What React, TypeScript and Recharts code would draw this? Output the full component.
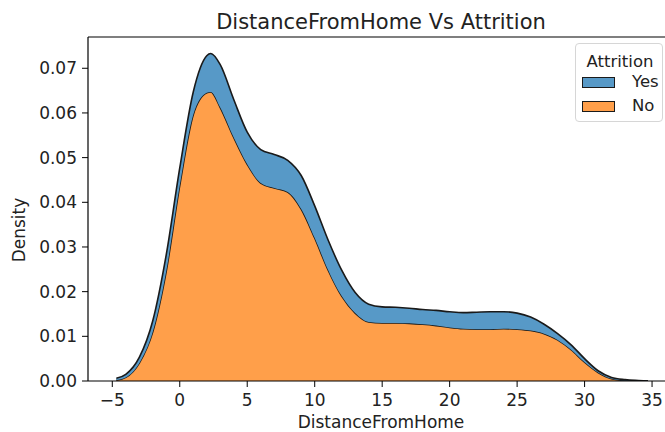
import React from "react";
import { AreaChart, Area, XAxis, YAxis, ReferenceLine } from "recharts";

// Grid positions along DistanceFromHome
const distanceValues = [
  -4.7, -4, -3, -2, -1, 0, 1, 2, 2.3, 3, 4, 5, 6, 7, 8, 9, 10, 11, 12, 13, 14, 15,
  16, 17, 18, 19, 20, 21, 22, 23, 24, 25, 26, 27, 28, 29, 30, 31, 32, 33, 34, 34.7,
];

// Stacked KDE layers (density contribution of each group)
const noDensity = [
  0.0002, 0.0008, 0.004, 0.011, 0.0246, 0.0438, 0.0596, 0.0645, 0.0647, 0.0612,
  0.0545, 0.0485, 0.0443, 0.0432, 0.0423, 0.0385, 0.032, 0.0248, 0.019, 0.0152,
  0.0132, 0.013, 0.013, 0.0129, 0.0127, 0.0124, 0.012, 0.0117, 0.0116, 0.0116,
  0.0117, 0.0116, 0.0113, 0.0106, 0.0092, 0.007, 0.0042, 0.0019, 0.0005, 0.0001,
  0.0, 0.0,
];
const yesDensity = [
  0.0004, 0.0007, 0.0013, 0.0025, 0.0037, 0.0039, 0.0051, 0.0083, 0.0086, 0.0096,
  0.0085, 0.0072, 0.0075, 0.0075, 0.0071, 0.0075, 0.0072, 0.0067, 0.0058, 0.0046,
  0.004, 0.0036, 0.0035, 0.0034, 0.0033, 0.0034, 0.0035, 0.0036, 0.0038, 0.0039,
  0.0038, 0.0036, 0.003, 0.0021, 0.0014, 0.0011, 0.0008, 0.0004, 0.0003, 0.0002,
  0.0001, 0.0,
];

const xTicks = [-5, 0, 5, 10, 15, 20, 25, 30, 35];
const yTicks = [0, 0.01, 0.02, 0.03, 0.04, 0.05, 0.06, 0.07];
const seriesNames = ["Yes", "No"];

const data = distanceValues.map((x, i) => ({
  x,
  No: noDensity[i],
  Yes: yesDensity[i],
}));

const FONT = "'DejaVu Sans', sans-serif";
const TEXT = "#222";
const BLUE = "#5799c7";
const ORANGE = "#ff9f4a";
const EDGE = "#1a1a1a";
const Y_MAX = 0.077;

export default function App() {
  return (
    <div
      style={{
        position: "absolute",
        left: 0,
        top: 0,
        width: 665,
        height: 432,
        overflow: "hidden",
        background: "#fff",
        fontFamily: FONT,
      }}
    >
      <div
        style={{
          position: "absolute",
          left: 0,
          top: 9,
          width: 762,
          textAlign: "center",
          fontSize: 21,
          color: TEXT,
          lineHeight: "26px",
          whiteSpace: "nowrap",
        }}
      >
        DistanceFromHome Vs Attrition
      </div>
      <AreaChart
        width={700}
        height={432}
        data={data}
        margin={{ top: 37, right: 25, bottom: 0, left: 0 }}
        style={{ position: "absolute", left: 0, top: 0 }}
      >
        <XAxis
          dataKey="x"
          type="number"
          domain={[-6.8, 36.7]}
          ticks={xTicks}
          allowDataOverflow
          height={51}
          tickSize={6}
          tickMargin={7}
          stroke="#000"
          tickLine={{ stroke: "#000" }}
          axisLine={{ stroke: "#000", strokeWidth: 1.2 }}
          tick={{ fontSize: 17, fill: TEXT, fontFamily: FONT }}
          tickFormatter={(v: number) => String(v).replace("-", "\u2212")}
          label={{
            content: () => (
              <text
                x={381}
                y={428}
                textAnchor="middle"
                fontSize={17}
                fill={TEXT}
                fontFamily={FONT}
              >
                DistanceFromHome
              </text>
            ),
          }}
        />
        <YAxis
          type="number"
          domain={[0, Y_MAX]}
          ticks={yTicks}
          allowDataOverflow
          width={88}
          tickSize={6}
          tickMargin={5}
          stroke="#000"
          tickLine={{ stroke: "#000" }}
          axisLine={{ stroke: "#000", strokeWidth: 1.2 }}
          tick={{ fontSize: 17, fill: TEXT, fontFamily: FONT }}
          tickFormatter={(v: number) => v.toFixed(2)}
          label={{
            content: () => (
              <text
                x={25}
                y={230}
                transform="rotate(-90 25 230)"
                textAnchor="middle"
                fontSize={17}
                fill={TEXT}
                fontFamily={FONT}
              >
                Density
              </text>
            ),
          }}
        />
        <Area
          type="monotone"
          dataKey="No"
          stackId="kde"
          stroke={EDGE}
          strokeWidth={1.6}
          fill={ORANGE}
          fillOpacity={1}
          dot={false}
          activeDot={false}
          isAnimationActive={false}
        />
        <Area
          type="monotone"
          dataKey="Yes"
          stackId="kde"
          stroke={EDGE}
          strokeWidth={1.6}
          fill={BLUE}
          fillOpacity={1}
          dot={false}
          activeDot={false}
          isAnimationActive={false}
        />
        <ReferenceLine y={Y_MAX} stroke="#000" strokeWidth={1.2} ifOverflow="extendDomain" />
      </AreaChart>
      <div
        style={{
          position: "absolute",
          left: 575,
          top: 43,
          width: 88,
          height: 79,
          border: "1px solid #d6d6d6",
          borderRadius: 4,
          background: "rgba(255,255,255,0.8)",
          boxSizing: "border-box",
          fontSize: 16.5,
          color: TEXT,
        }}
      >
        <div
          style={{
            position: "absolute",
            left: 0,
            width: 88,
            top: 8,
            textAlign: "center",
            lineHeight: "20px",
          }}
        >
          Attrition
        </div>
        {seriesNames.map((name, i) => (
          <div key={name}>
            <div
              style={{
                position: "absolute",
                left: 6,
                top: 33 + i * 23.5,
                width: 33,
                height: 11,
                background: name === "Yes" ? BLUE : ORANGE,
                border: `1.3px solid ${EDGE}`,
                boxSizing: "border-box",
              }}
            />
            <div
              style={{
                position: "absolute",
                left: 56,
                top: 28 + i * 23.5,
                lineHeight: "20px",
              }}
            >
              {name}
            </div>
          </div>
        ))}
      </div>
    </div>
  );
}
